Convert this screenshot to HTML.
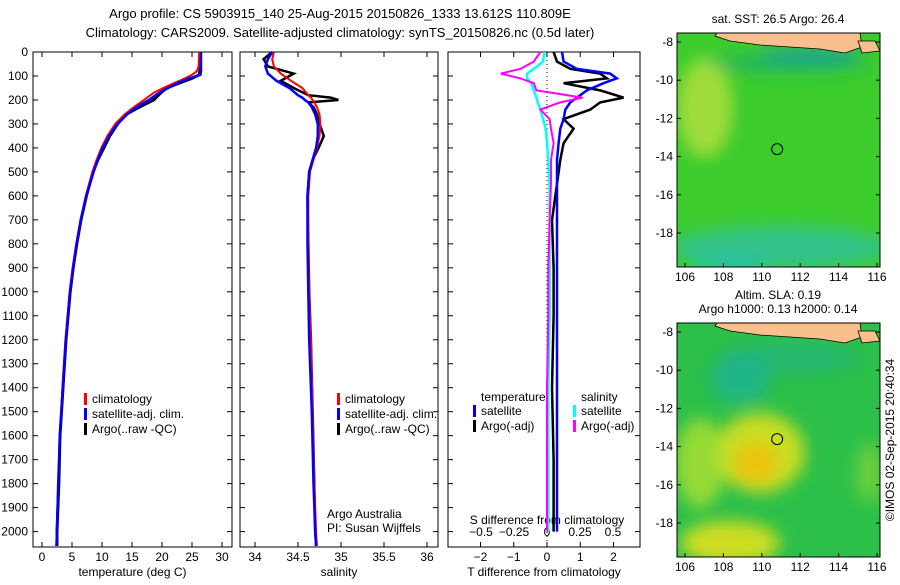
<!DOCTYPE html>
<html><head><meta charset="utf-8"><style>
body{margin:0;background:#fff;}
svg text{font-family:"Liberation Sans",sans-serif;font-size:12px;fill:#000;}
</style></head><body>
<svg id="c" width="900" height="580" xmlns="http://www.w3.org/2000/svg">
<defs><filter id="bl" x="-50%" y="-50%" width="200%" height="200%"><feGaussianBlur stdDeviation="8"/></filter>
<clipPath id="cp1"><rect x="677" y="33" width="203" height="234"/></clipPath>
<clipPath id="cp2"><rect x="677" y="323" width="203" height="234"/></clipPath></defs>
<text x="340" y="18" text-anchor="middle" style="font-size:13px">Argo profile: CS 5903915_140 25-Aug-2015 20150826_1333 13.612S 110.809E</text>
<text x="340" y="37" text-anchor="middle" style="font-size:13px">Climatology: CARS2009. Satellite-adjusted climatology: synTS_20150826.nc (0.5d later)</text>
<g id="g"></g>
</svg>
<script>
// ---- data ----
const tDepth=[0,60,80,95,110,130,150,170,200,230,260,300,350,400,450,500,600,700,800,900,1000,1200,1400,1600,1800,2000,2060];
const tClim=[26.2,26.1,25.8,25,23.8,22,20.2,18.6,17,15.3,13.8,12.2,10.9,9.9,9.1,8.4,7.3,6.4,5.7,5.1,4.6,3.9,3.4,3.0,2.7,2.5,2.4];
const tSat=[26.5,26.5,26.5,26.4,24.5,22.5,21,19.5,17.8,15.8,14.2,12.6,11.2,10.1,9.3,8.6,7.4,6.5,5.8,5.2,4.7,4.0,3.5,3.0,2.7,2.5,2.4];
const tArgo=[26.4,26.4,26.3,26.2,25,22.8,20.8,19.8,18.6,16.2,14.0,12.6,11.3,10.3,9.3,8.5,7.4,6.5,5.8,5.2,4.7,4.0,3.5,3.0,2.8,2.5,2.5];
const sDepth=[0,30,60,90,120,150,180,190,200,210,230,260,300,350,400,450,500,600,800,1000,1200,1500,1800,2000,2060];
const sClim=[34.22,34.2,34.22,34.3,34.42,34.55,34.62,34.65,34.67,34.69,34.72,34.75,34.76,34.75,34.72,34.68,34.64,34.62,34.62,34.63,34.65,34.67,34.69,34.71,34.72];
const sSat=[34.2,34.15,34.12,34.15,34.25,34.4,34.5,34.55,34.58,34.62,34.66,34.7,34.73,34.73,34.71,34.67,34.63,34.61,34.61,34.62,34.63,34.66,34.68,34.7,34.71];
const sArgo=[34.2,34.1,34.15,34.45,34.3,34.45,34.62,34.88,34.97,34.62,34.68,34.72,34.75,34.8,34.74,34.67,34.63,34.61,34.62,34.63,34.65,34.67,34.69,34.7,34.71];
const dDepth=[0,40,70,90,110,130,160,190,210,240,280,320,380,450,550,700,900,1100,1400,1700,2000];
const dTsat=[0.45,0.5,0.9,1.9,2.1,1.7,1.2,0.9,0.7,0.55,0.5,0.4,0.35,0.3,0.3,0.3,0.3,0.3,0.3,0.3,0.3];
const dTargo=[0.2,0.3,0.7,1.6,1.8,0.5,1.6,2.3,1.6,1.3,0.5,0.8,0.5,0.4,0.3,0.15,0.2,0.2,0.15,0.2,0.2];
const dSsat=[-0.02,-0.03,-0.1,-0.15,-0.15,-0.12,-0.1,-0.08,-0.07,-0.05,-0.03,-0.01,0,0.01,0.02,0.02,0.02,0.02,0.01,0.01,0.01];
const dSargo=[-0.05,-0.1,-0.2,-0.35,-0.2,-0.1,-0.08,0.27,0.1,-0.05,0.02,0.03,0.05,0.03,0.03,0.02,0.01,0.01,0.0,0.0,0.0];
const depthTicks=[0,100,200,300,400,500,600,700,800,900,1000,1100,1200,1300,1400,1500,1600,1700,1800,1900,2000];
const tTicks=[0,5,10,15,20,25,30];
const sTicks=[34,34.5,35,35.5,36];
const dtTicks=[-2,-1,0,1,2];
const dsTicks=[-0.5,-0.25,0,0.25,0.5];
const dsTickLabels=["−0.5","−0.25","0","0.25","0.5"];
const lonTicks=[106,108,110,112,114,116];
const latTicks=[-8,-10,-12,-14,-16,-18];

const NS="http://www.w3.org/2000/svg";
const G=document.getElementById('g');
function el(t,a,p){const e=document.createElementNS(NS,t);for(const k in a)e.setAttribute(k,a[k]);(p||G).appendChild(e);return e;}
function txt(x,y,s,anc,p,sz){const e=el('text',{x:x,y:y,'text-anchor':anc||'middle'},p);if(sz)e.style.fontSize=sz+'px';e.textContent=s;return e;}
const Y=d=>52+d*0.2398;
const pTop=52,pBot=547;

function panel(name,x0,x1,xs,ticks,labels,xlabel){
  const g=el('g',{});
  
  
  el('rect',{x:x0,y:pTop,width:x1-x0,height:pBot-pTop,fill:'none',stroke:'#000'},g);
  ticks.forEach((t,i)=>{const x=xs(t);
    el('line',{x1:x,x2:x,y1:pBot,y2:pBot-5,stroke:'#000'},g);
    el('line',{x1:x,x2:x,y1:pTop,y2:pTop+5,stroke:'#000'},g);
    if(labels)txt(x,561,labels[i],'middle',g);});
  depthTicks.forEach(d=>{el('line',{x1:x0,x2:x0+5,y1:Y(d),y2:Y(d),stroke:'#000'},g);el('line',{x1:x1,x2:x1-5,y1:Y(d),y2:Y(d),stroke:'#000'},g);});
  if(xlabel)txt((x0+x1)/2,576,xlabel,'middle',g);
  return g;
}
function line(g,xs,vals,depths,col,w,name){
  const p=el('polyline',{points:vals.map((v,i)=>xs(v).toFixed(1)+','+Y(depths[i]).toFixed(1)).join(' '),fill:'none',stroke:col,'stroke-width':w},g);
  
  
}
function legend(g,x,y,items){
  items.forEach((it,i)=>{el('rect',{x:x,y:y+i*15-10,width:3,height:12,fill:it[1]},g);txt(x+8,y+i*15,it[0],'start',g);});
}
// panel 1
const xT=v=>42+v*6;
const g1=panel('temperature-panel',33,232,xT,tTicks,tTicks.map(String),'temperature (deg C)');
depthTicks.forEach(d=>txt(28,Y(d)+4,String(d),'end',g1));
line(g1,xT,tArgo,tDepth,'#000',3,'argo-temperature-line');
line(g1,xT,tClim,tDepth,'#f00',2,'climatology-temperature-line');
line(g1,xT,tSat,tDepth,'#00f',2.5,'satellite-temperature-line');
legend(g1,84,403,[['climatology','#f00'],['satellite-adj. clim.','#00f'],['Argo(..raw -QC)','#000']]);
// panel 2
const xS=v=>255+(v-34)*86;
const g2=panel('salinity-panel',240,438,xS,sTicks,['34','34.5','35','35.5','36'],'salinity');
line(g2,xS,sArgo,sDepth,'#000',2.5,'argo-salinity-line');
line(g2,xS,sClim,sDepth,'#f00',2,'climatology-salinity-line');
line(g2,xS,sSat,sDepth,'#00f',2.5,'satellite-salinity-line');
legend(g2,337,403,[['climatology','#f00'],['satellite-adj. clim.','#00f'],['Argo(..raw -QC)','#000']]);
txt(327,518,'Argo Australia','start',g2);txt(327,532,'PI: Susan Wijffels','start',g2);
// panel 3
const xDT=v=>547+v*33.25, xDS=v=>547+v*132;
const g3=panel('difference-panel',448,640,xDT,dtTicks,['−2','−1','0','1','2'],'T difference from climatology');
dsTicks.forEach((t,i)=>txt(xDS(t),536,dsTickLabels[i],'middle',g3));
txt(547,524,'S difference from climatology','middle',g3);
el('line',{x1:547,x2:547,y1:pTop,y2:pBot,stroke:'#000','stroke-dasharray':'1,3'},g3);
line(g3,xDT,dTargo,dDepth,'#000',2.5,'argo-t-diff-line');
line(g3,xDT,dTsat,dDepth,'#00f',2.5,'satellite-t-diff-line');
line(g3,xDS,dSsat,dDepth,'#0ff',2.5,'satellite-s-diff-line');
line(g3,xDS,dSargo,dDepth,'#f0f',2,'argo-s-diff-line');
txt(481,401,'temperature','start',g3);txt(581,401,'salinity','start',g3);
legend(g3,473,415,[['satellite','#00f'],['Argo(-adj)','#000']]);
legend(g3,573,415,[['satellite','#0ff'],['Argo(-adj)','#f0f']]);
// maps
function drawMap(name,y0,title,blobs,clip){
  const g=el('g',{});
  
  
  const x0=677,x1=880,h=234;
  el('rect',{x:x0,y:y0,width:x1-x0,height:h,fill:blobs.bg},g);
  const bg=el('g',{'clip-path':'url(#'+clip+')'},g);
  const inner=el('g',{filter:'url(#bl)'},bg);
  blobs.list.forEach(b=>el('ellipse',{cx:b[0],cy:y0+b[1],rx:b[2],ry:b[3],fill:b[4],opacity:b[5]},inner));
  el('path',{d:`M${x0+40},${y0} L860,${y0} L862,${y0+14} L845,${y0+20} L820,${y0+16} L790,${y0+14} L760,${y0+12} L730,${y0+8} L715,${y0+3} Z`,fill:'#f9c08e',stroke:'#000','stroke-width':0.8},g);
  el('path',{d:`M858,${y0+8} L875,${y0+8} L880,${y0+18} L862,${y0+20} Z`,fill:'#f9c08e',stroke:'#000','stroke-width':0.8},g);
  el('rect',{x:x0,y:y0,width:x1-x0,height:h,fill:'none',stroke:'#000'},g);
  el('circle',{cx:685+(110.8-106)*19.2,cy:y0+9+(13.61-8)*19.1,r:5.5,fill:'none',stroke:'#000'},g);
  lonTicks.forEach(l=>{const x=685+(l-106)*19.2;el('line',{x1:x,x2:x,y1:y0+h,y2:y0+h-4,stroke:'#000'},g);txt(x,y0+h+14,String(l),'middle',g);});
  latTicks.forEach(l=>{const y=y0+9+(-8-l)*19.1;el('line',{x1:x0,x2:x0+4,y1:y,y2:y,stroke:'#000'},g);el('line',{x1:x1,x2:x1-4,y1:y,y2:y,stroke:'#000'},g);txt(673,y+4,String(l),'end',g);});
  title.forEach((t,i)=>txt(778,y0-10-(title.length-1-i)*14,t,'middle',g));
}
drawMap('sst-map',33,['sat. SST: 26.5 Argo: 26.4'],{bg:'#3ccc2c',list:[[705,75,28,50,'#b8e040',0.8],[790,30,80,10,'#20b070',0.7],[810,22,50,4,'#1080d0',0.9],[780,215,110,22,'#30c0a0',0.8],[730,232,40,10,'#20c0c0',0.6]]},'cp1');
drawMap('sla-map',323,['Altim. SLA: 0.19','Argo h1000: 0.13 h2000: 0.14'],{bg:'#2cc04a',list:[[740,55,30,25,'#20b0a0',0.7],[790,35,70,14,'#20b090',0.6],[760,130,45,40,'#d8e020',0.9],[755,140,22,20,'#f0c010',0.9],[700,140,25,45,'#b0e030',0.8],[730,220,50,22,'#e0e020',0.9],[870,150,15,30,'#90d830',0.6]]},'cp2');
const cr=txt(0,0,'©IMOS 02-Sep-2015 20:40:34','middle');
cr.setAttribute('transform','translate(894,440) rotate(-90)');


</script>
</body></html>
